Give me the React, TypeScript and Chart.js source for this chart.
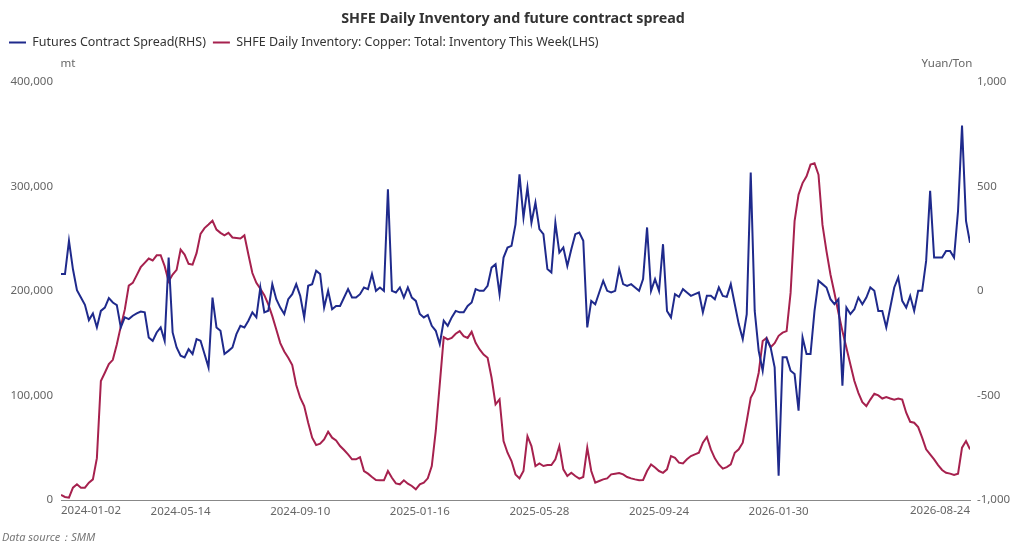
import { useEffect, useRef } from 'react'
import Chart, { layouts } from 'chart.js/auto'

// tick positions on the x axis (point index) and their date labels
const xTickIndex = [0, 30, 60, 90, 120, 150, 180, 228]
const xTickLabels = ['2024-01-02', '2024-05-14', '2024-09-10', '2025-01-16', '2025-05-28', '2025-09-24', '2026-01-30', '2026-08-24']

const leftTicks = [0, 100000, 200000, 300000, 400000]
const rightTicks = [-1000, -500, 0, 500, 1000]

// Futures Contract Spread, yuan/ton (RHS)
const spread = [
  80, 80, 239, 103, 3, -32, -67, -140, -108, -175,
  -96, -80, -35, -56, -68, -175, -127, -135, -119, -108,
  -99, -103, -223, -239, -199, -175, -239, 159, -199, -271,
  -310, -318, -279, -302, -231, -239, -302, -366, -32, -175,
  -191, -302, -287, -271, -207, -167, -175, -143, -103, -127,
  16, -103, -95, 32, -40, -80, -111, -40, -16, 32,
  -24, -127, 24, 32, 96, 80, -80, 0, -88, -72,
  -72, -32, 8, -32, -32, -16, 16, 8, 80, 0,
  16, 0, 486, 0, -8, 16, -32, 16, -32, -48,
  -111, -127, -115, -167, -191, -255, -143, -167, -127, -96,
  -103, -103, -72, -56, 8, 0, 0, 24, 111, 127,
  -16, 159, 207, 215, 318, 557, 350, 494, 326, 422,
  295, 271, 104, 88, 326, 183, 207, 119, 199, 271,
  279, 239, -175, -48, -64, -8, 48, 0, -8, 0,
  104, 32, 24, 32, 16, 0, 56, 303, 0, 56,
  0, 223, -96, -127, -16, -29, 8, -8, -24, -16,
  -8, -103, -24, -24, -40, 16, -24, -29, 32, -64,
  -159, -231, -111, 565, -96, -287, -382, -231, -271, -366,
  -884, -318, -318, -382, -398, -573, -223, -302, -302, -96,
  48, 32, 16, -40, -64, -40, -454, -80, -111, -88,
  -32, -64, -32, 16, 0, -96, -96, -175, -80, 16,
  64, -48, -80, -24, -96, 0, 0, 143, 478, 159,
  159, 159, 191, 191, 159, 382, 790, 334, 230,
]

// SHFE copper inventory this week, mt (LHS)
const inventory = [
  4800, 2900, 2200, 11800, 15000, 11800, 11800, 16600, 19700, 40000,
  113700, 121700, 130000, 134000, 148700, 166000, 182000, 205000, 207600, 215000,
  222600, 226800, 230900, 229000, 234000, 234000, 223600, 209000, 215600, 220000,
  239500, 234700, 225800, 225000, 236000, 254500, 260000, 263400, 267000, 258600,
  255400, 253000, 255400, 251000, 250600, 250000, 253000, 234700, 217000, 207600,
  202000, 195900, 187000, 175800, 163000, 150000, 142000, 136000, 129000, 110000,
  97800, 89800, 73900, 59600, 52500, 53800, 58000, 65300, 59600, 57000,
  51600, 47800, 43600, 38900, 38900, 41000, 27700, 25200, 22000, 19100,
  18800, 18800, 27700, 21300, 15900, 15000, 18800, 15600, 13400, 10200,
  15000, 16600, 20700, 32500, 66000, 110500, 155700, 153500, 155000, 159000,
  161500, 156700, 155000, 160800, 150300, 144000, 139000, 136000, 116900, 91400,
  96200, 56400, 45200, 37300, 24500, 20700, 27700, 61000, 51600, 32500,
  35000, 32500, 33400, 33400, 38900, 51600, 29300, 22900, 26000, 22900,
  20400, 22000, 50000, 27700, 16600, 18200, 19700, 20700, 24500, 25200,
  25800, 24500, 22000, 20700, 19700, 18800, 19100, 27700, 34000, 31000,
  27700, 26000, 29300, 42000, 40400, 35700, 35000, 38900, 42000, 43600,
  45200, 54800, 60200, 48400, 39800, 34000, 30000, 31500, 34000, 45200,
  48400, 54800, 75500, 97800, 104800, 121700, 152000, 155000, 146000, 150000,
  157000, 160000, 161500, 198000, 266600, 292000, 303000, 309500, 320700, 322000,
  311000, 263000, 238000, 215600, 198000, 179000, 161500, 145500, 129600, 113700,
  102500, 93600, 89800, 96000, 101600, 100000, 97000, 98400, 97000, 96000,
  97000, 96000, 83400, 74800, 73900, 69700, 59600, 48400, 43600, 38900,
  33400, 28700, 26100, 25200, 23900, 25200, 50000, 56400, 48400,
]

const FONT = '"Noto Sans", sans-serif'
const tickFont = { family: FONT, size: 11.5 }
const tickColor = '#666'

const fmt = (v: number) => v.toLocaleString('en-US')

// empty row under the legend that holds the axis names
const axisNameRow = {
  id: 'axisNameRow',
  start(chart: any) {
    const box: any = {
      position: 'top',
      weight: 0,
      fullSize: true,
      options: {},
      left: 0, top: 0, right: 0, bottom: 0, width: 0, height: 0,
      isHorizontal: () => true,
      update(maxWidth: number) {
        box.width = maxWidth
        box.height = 23
      },
      draw() {},
    }
    layouts.addBox(chart, box)
  },
  afterDraw(chart: any) {
    const { ctx, chartArea, scales } = chart
    ctx.save()
    ctx.font = `11.5px ${FONT}`
    ctx.fillStyle = tickColor
    ctx.textBaseline = 'middle'
    ctx.textAlign = 'center'
    ctx.fillText('mt', chartArea.left + 7, chartArea.top - 18)
    ctx.fillText('Yuan/Ton', chartArea.right - 23, chartArea.top - 18)

    // first and last date labels sit inside the axis ends
    const sx = scales.x
    const ly = sx.top + 5
    ctx.textBaseline = 'top'
    ctx.textAlign = 'left'
    ctx.fillText(xTickLabels[0], sx.getPixelForValue(xTickIndex[0]), ly)
    ctx.textAlign = 'right'
    const last = xTickIndex.length - 1
    ctx.fillText(xTickLabels[last], sx.getPixelForValue(xTickIndex[last]), ly)
    ctx.restore()
  },
}

export default function App() {
  const canvasRef = useRef<HTMLCanvasElement | null>(null)

  useEffect(() => {
    if (!canvasRef.current) return

    const chart = new Chart(canvasRef.current, {
      type: 'line',
      data: {
        datasets: [
          {
            label: 'Futures Contract Spread(RHS)',
            data: spread.map((v, i) => ({ x: i, y: v })),
            yAxisID: 'yR',
            borderColor: '#1f2a8c',
            backgroundColor: '#1f2a8c',
            borderWidth: 2,
            pointRadius: 0,
            tension: 0,
          },
          {
            label: 'SHFE Daily Inventory: Copper: Total: Inventory This Week(LHS)',
            data: inventory.map((v, i) => ({ x: i, y: v })),
            yAxisID: 'yL',
            borderColor: '#a6214e',
            backgroundColor: '#a6214e',
            borderWidth: 2,
            pointRadius: 0,
            tension: 0,
          },
        ],
      },
      options: {
        responsive: false,
        animation: false,
        layout: { padding: { left: 2, right: 0, top: 0, bottom: 0 } },
        plugins: {
          title: {
            display: true,
            text: 'SHFE Daily Inventory and future contract spread',
            color: '#333',
            font: { family: FONT, size: 14.3, weight: 'bold' },
            padding: { top: 10, bottom: 2 },
          },
          subtitle: {
            display: true,
            position: 'bottom',
            align: 'start',
            text: 'Data source：SMM',
            color: '#777',
            font: { family: FONT, size: 11, style: 'italic' },
            padding: { top: 7, bottom: 4 },
          },
          legend: {
            position: 'top',
            align: 'start',
            labels: {
              usePointStyle: true,
              pointStyle: 'line',
              pointStyleWidth: 17,
              padding: 7,
              color: '#333',
              font: { family: FONT, size: 12.5 },
            },
          },
          tooltip: { enabled: false },
        },
        scales: {
          x: {
            type: 'linear',
            min: xTickIndex[0],
            max: xTickIndex[xTickIndex.length - 1],
            grid: { display: false, drawTicks: false },
            border: { display: true, color: '#888', width: 1 },
            afterBuildTicks: (s: any) => {
              s.ticks = xTickIndex.map((v) => ({ value: v }))
            },
            ticks: {
              autoSkip: false,
              maxRotation: 0,
              padding: 5,
              color: tickColor,
              font: tickFont,
              callback: (v: any) => {
                const k = xTickIndex.indexOf(Number(v))
                if (k <= 0 || k === xTickIndex.length - 1) return ''
                return xTickLabels[k]
              },
            },
          },
          yL: {
            type: 'linear',
            position: 'left',
            min: leftTicks[0],
            max: leftTicks[leftTicks.length - 1],
            grid: { display: false, drawTicks: false },
            border: { display: false },
            afterBuildTicks: (s: any) => {
              s.ticks = leftTicks.map((v) => ({ value: v }))
            },
            afterFit: (s: any) => {
              s.width = 59
            },
            ticks: {
              padding: 8,
              color: tickColor,
              font: tickFont,
              callback: (v: any) => fmt(Number(v)),
            },
          },
          yR: {
            type: 'linear',
            position: 'right',
            min: rightTicks[0],
            max: rightTicks[rightTicks.length - 1],
            grid: { display: false, drawTicks: false },
            border: { display: false },
            afterBuildTicks: (s: any) => {
              s.ticks = rightTicks.map((v) => ({ value: v }))
            },
            afterFit: (s: any) => {
              s.width = 54
            },
            ticks: {
              padding: 7,
              color: tickColor,
              font: tickFont,
              callback: (v: any) => fmt(Number(v)),
            },
          },
        },
      },
      plugins: [axisNameRow],
    })

    return () => {
      chart.destroy()
    }
  }, [])

  return (
    <div style={{ position: 'absolute', left: 0, top: 0, width: 1024, height: 548, background: '#fff' }}>
      <canvas ref={canvasRef} width={1024} height={548} />
    </div>
  )
}
